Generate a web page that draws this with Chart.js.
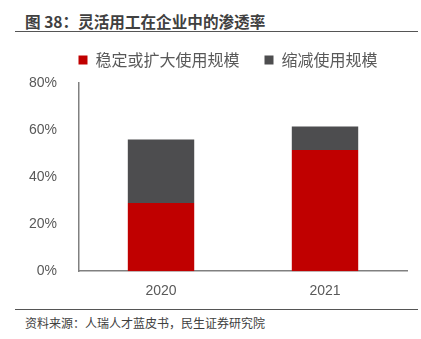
<!DOCTYPE html>
<html>
<head>
<meta charset="utf-8">
<script src="https://cdn.jsdelivr.net/npm/chart.js@4"></script>
<style>
  body { margin: 0; background: #fff; width: 421px; height: 339px; position: relative; overflow: hidden; font-family: Lato, "Noto Sans CJK SC", sans-serif; }
  #titulo { position: absolute; left: 25px; top: 10px; font-size: 15.6px; font-weight: bold; color: #404040; font-family: "Noto Sans CJK SC", sans-serif; }
  #linhaTopo { position: absolute; left: 15px; right: 3px; top: 31px; border-top: 1.5px solid #555; }
  #linhaBase { position: absolute; left: 15px; right: 3px; top: 309px; border-top: 1.5px solid #555; }
  #fonte { position: absolute; left: 25px; top: 314px; font-size: 12px; color: #404040; font-family: "Noto Sans CJK SC", sans-serif; }
  #caixa { position: absolute; left: 0; top: 27px; width: 421px; height: 281px; }
</style>
</head>
<body>
<div id="titulo">图 38：灵活用工在企业中的渗透率</div>
<div id="linhaTopo"></div>
<div id="caixa"><canvas id="grafico"></canvas></div>
<div id="linhaBase"></div>
<div id="fonte">资料来源：人瑞人才蓝皮书，民生证券研究院</div>
<script>
const anos = ["2020", "2021"];
const estavel = [29, 51.5];
const reduzido = [27, 10];
const rotulosY = ["0%", "20%", "40%", "60%", "80%"];

// espaço extra entre a legenda e o gráfico, e legenda um pouco à direita
const ajusteLegenda = {
  id: "ajusteLegenda",
  beforeInit(chart) {
    const legenda = chart.legend;
    const fitOriginal = legenda.fit;
    legenda.fit = function () {
      fitOriginal.call(legenda);
      this.height += 5;
    };
    const drawOriginal = legenda.draw;
    legenda.draw = function () {
      const ctx = chart.ctx;
      ctx.save();
      ctx.translate(17, 0);
      drawOriginal.call(legenda);
      ctx.restore();
    };
  },
};

new Chart(document.getElementById("grafico"), {
  type: "bar",
  data: {
    labels: anos,
    datasets: [
      {
        label: "稳定或扩大使用规模",
        data: estavel,
        backgroundColor: "#C00000",
        barPercentage: 0.81,
        categoryPercentage: 0.5,
      },
      {
        label: "缩减使用规模",
        data: reduzido,
        backgroundColor: "#4D4D4F",
        barPercentage: 0.81,
        categoryPercentage: 0.5,
      },
    ],
  },
  options: {
    responsive: true,
    maintainAspectRatio: false,
    animation: false,
    layout: { padding: { left: 15, right: 14, top: 0, bottom: 4 } },
    plugins: {
      legend: {
        position: "top",
        labels: {
          boxWidth: 9,
          boxHeight: 9,
          padding: 25,
          color: "#595959",
          font: { size: 16, family: "'Noto Sans CJK SC', sans-serif" },
        },
      },
      tooltip: { enabled: false },
    },
    scales: {
      x: {
        stacked: true,
        grid: { display: false },
        border: { color: "#808080", width: 1.5 },
        ticks: { color: "#595959", font: { size: 14 }, padding: 4 },
      },
      y: {
        stacked: true,
        min: 0,
        max: 80,
        grid: { display: false },
        border: { color: "#808080", width: 1.5 },
        ticks: {
          stepSize: 20,
          color: "#595959",
          font: { size: 14 },
          padding: 14,
          callback: (v) => rotulosY[v / 20],
        },
      },
    },
  },
  plugins: [ajusteLegenda],
});
</script>
</body>
</html>
